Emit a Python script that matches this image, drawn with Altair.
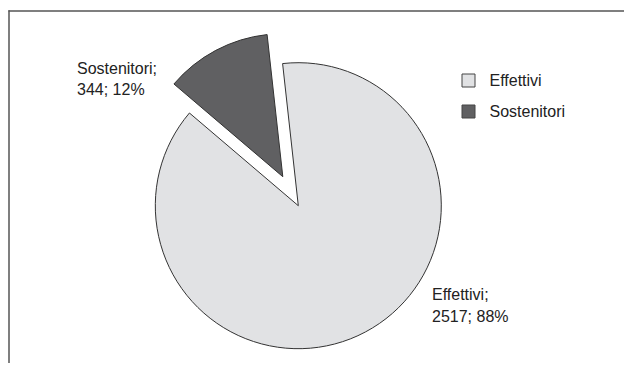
import math
import altair as alt
import pandas as pd

categories = ["Effettivi", "Sostenitori"]
values = [2517, 344]
percents = [88, 12]
order = [0, 1]

labels = [f"{c};\n{v}; {p}%" for c, v, p in zip(categories, values, percents)]
df = pd.DataFrame({"categoria": categories, "valore": values, "ordine": order, "etichetta": labels})

FILL = ["#e1e2e4", "#606062"]
START = math.radians(-6.3)
CX, CY, R = 290.3, 197.7, 143
OFF_X, OFF_Y = -15.5, -29
W, H = 616, 355

base = alt.Chart(df).transform_joinaggregate(
    totale="sum(valore)"
).transform_window(
    cum="sum(valore)", sort=[alt.SortField("ordine")], frame=[None, 0]
).transform_calculate(
    t_end="datum.cum / datum.totale",
    t_start="(datum.cum - datum.valore) / datum.totale",
)

theta_scale = alt.Scale(domain=[0, 1], range=[START, START + 2 * math.pi])
color = alt.Color(
    "categoria:N",
    scale=alt.Scale(domain=categories, range=FILL),
    legend=alt.Legend(
        title=None, orient="none", legendX=452.5, legendY=64.5,
        symbolType="square", symbolSize=169, symbolStrokeColor="#444",
        symbolStrokeWidth=1, labelFont="Liberation Sans", labelFontSize=16,
        labelColor="#222", labelOffset=13, rowPadding=13, padding=0,
    ),
)

arc_eff = base.transform_filter(alt.datum.categoria == "Effettivi").mark_arc(
    stroke="#333", strokeWidth=1, radius=R
).encode(
    theta=alt.Theta("t_start:Q", scale=theta_scale),
    theta2="t_end:Q",
    color=color,
    x=alt.value(CX), y=alt.value(CY),
)

arc_sos = base.transform_filter(alt.datum.categoria == "Sostenitori").mark_arc(
    stroke="#333", strokeWidth=1, radius=R
).encode(
    theta=alt.Theta("t_start:Q", scale=theta_scale),
    theta2="t_end:Q",
    color=color,
    x=alt.value(CX + OFF_X), y=alt.value(CY + OFF_Y),
)

txt_props = dict(font="Liberation Sans", fontSize=16, color="#222", align="left",
                 baseline="alphabetic", lineBreak="\n", lineHeight=21.5)

lab_sos = alt.Chart(df).transform_filter(alt.datum.categoria == "Sostenitori").mark_text(**txt_props).encode(
    text="etichetta:N", x=alt.value(69), y=alt.value(65.5)
)
lab_eff = alt.Chart(df).transform_filter(alt.datum.categoria == "Effettivi").mark_text(**txt_props).encode(
    text="etichetta:N", x=alt.value(424), y=alt.value(292)
)

dummy = pd.DataFrame({"k": [0]})
frame_top = alt.Chart(dummy).mark_rule(stroke="#555", strokeWidth=1.5).encode(
    x=alt.value(0.5), x2=alt.value(W), y=alt.value(3)
)
frame_left = alt.Chart(dummy).mark_rule(stroke="#555", strokeWidth=1.5).encode(
    x=alt.value(1), y=alt.value(2.3), y2=alt.value(H)
)

chart = alt.layer(frame_top, frame_left, arc_eff, arc_sos, lab_sos, lab_eff).properties(
    width=W, height=H, autosize=alt.AutoSizeParams(type="none"), padding=0,
    background="white",
).configure_view(stroke=None)

chart.save("out.html", embed_options={"renderer": "svg", "actions": False})
